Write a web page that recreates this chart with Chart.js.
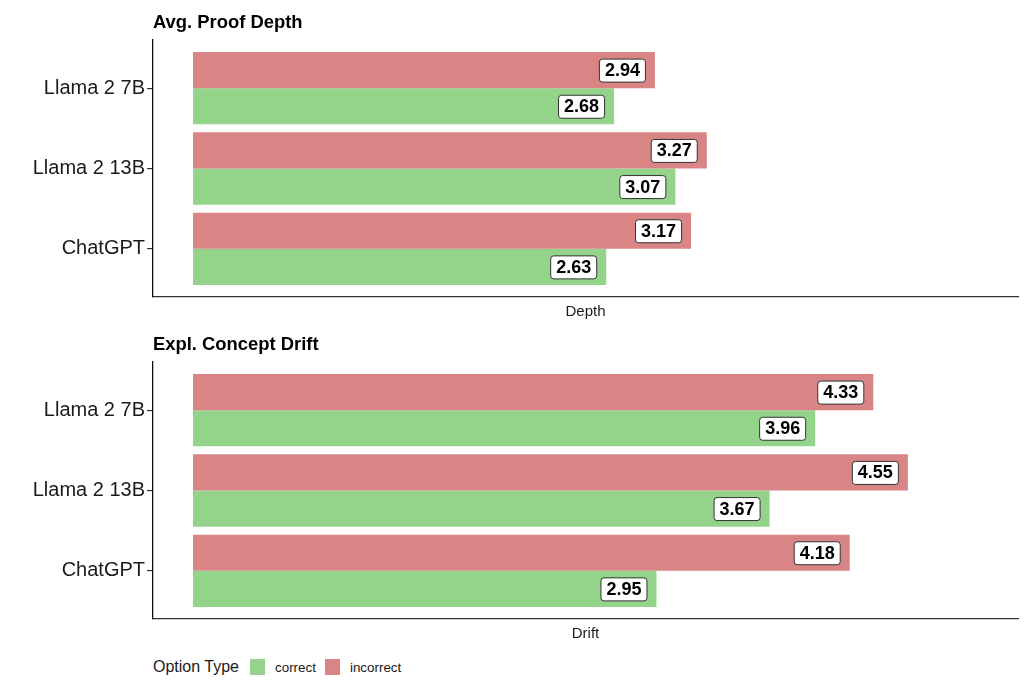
<!doctype html>
<html>
<head>
<meta charset="UTF-8">
<title>Proof depth and concept drift</title>
<script src="https://cdn.jsdelivr.net/npm/chart.js@4.4.1/dist/chart.umd.min.js"></script>
<style>
	body { margin: 0; background: #fff; font-family: "Liberation Sans", Arial, sans-serif; }
	#wrap { position: relative; width: 1033px; height: 691px; }
	.holder { position: absolute; left: 0; width: 1033px; height: 322px; }
	#legend { position: absolute; left: 153px; top: 658px; display: flex; align-items: center; color: #1a1a1a; }
	#legend .ttl { font-size: 16px; margin-right: 11px; }
	#legend .key { width: 15px; height: 16px; margin-right: 10px; }
	#legend .lab { font-size: 13.4px; margin-right: 9px; }
</style>
</head>
<body>
<div id="wrap">
	<div class="holder" style="top:0"><canvas id="depth"></canvas></div>
	<div class="holder" style="top:322px"><canvas id="drift"></canvas></div>
	<div id="legend"></div>
</div>
<script>
	const models = ['Llama 2 7B', 'Llama 2 13B', 'ChatGPT']
	const depthCorrect = [2.68, 3.07, 2.63]
	const depthIncorrect = [2.94, 3.27, 3.17]
	const driftCorrect = [3.96, 3.67, 2.95]
	const driftIncorrect = [4.33, 4.55, 4.18]

	const colors = { correct: '#93d38a', incorrect: '#d98585' }

	// white boxed value labels, right-aligned inside the bar end
	const valueLabels = {
		id: 'valueLabels',
		afterDatasetsDraw (chart) {
			const ctx = chart.ctx
			ctx.save()
			ctx.font = 'bold 18px "Liberation Sans", Arial, sans-serif'
			ctx.textAlign = 'center'
			ctx.textBaseline = 'middle'
			chart.data.datasets.forEach((ds, i) => {
				chart.getDatasetMeta(i).data.forEach((bar, j) => {
					const txt = ds.data[j].x.toFixed(2)
					const w = ctx.measureText(txt).width + 11
					const h = 23
					const right = bar.x - 10
					ctx.beginPath()
					ctx.roundRect(right - w + 0.5, bar.y - h / 2 + 0.5, w, h, 3)
					ctx.fillStyle = '#fff'
					ctx.fill()
					ctx.strokeStyle = '#333'
					ctx.lineWidth = 1
					ctx.stroke()
					ctx.fillStyle = '#000'
					ctx.fillText(txt, right - w / 2 + 0.5, bar.y + 1)
				})
			})
			ctx.restore()
		}
	}

	const panelTitle = {
		id: 'panelTitle',
		afterDraw (chart, args, opts) {
			const ctx = chart.ctx
			ctx.save()
			ctx.font = 'bold 18.4px "Liberation Sans", Arial, sans-serif'
			ctx.fillStyle = '#000'
			ctx.textAlign = 'left'
			ctx.textBaseline = 'middle'
			ctx.fillText(opts.text, chart.chartArea.left, 23)
			ctx.restore()
		}
	}

	function points (values) {
		return values.map((v, i) => ({ x: v, y: i + 1 }))
	}

	function makeChart (id, title, axisTitle, correct, incorrect) {
		return new Chart(document.getElementById(id), {
			type: 'bar',
			data: {
				datasets: [
					{ label: 'incorrect', data: points(incorrect), backgroundColor: colors.incorrect },
					{ label: 'correct', data: points(correct), backgroundColor: colors.correct }
				]
			},
			options: {
				indexAxis: 'y',
				animation: false,
				responsive: true,
				maintainAspectRatio: false,
				categoryPercentage: 0.9,
				barPercentage: 1.0,
				layout: { padding: { top: 40, right: 15, bottom: 1, left: 0 } },
				plugins: {
					legend: { display: false },
					tooltip: { enabled: false },
					panelTitle: { text: title }
				},
				scales: {
					x: {
						type: 'linear',
						min: -0.2546,
						max: 5.251,
						ticks: { display: false },
						grid: { display: false, drawTicks: false },
						border: { display: true, color: '#333', width: 1.3 },
						title: {
							display: true,
							text: axisTitle,
							color: '#1a1a1a',
							font: { size: 15, family: '"Liberation Sans", Arial, sans-serif' },
							padding: { top: 6, bottom: 0 }
						}
					},
					y: {
						type: 'linear',
						reverse: true,
						offset: false,
						min: 0.4,
						max: 3.6,
						afterBuildTicks (scale) {
							scale.ticks = models.map((m, i) => ({ value: i + 1 }))
						},
						afterFit (scale) { scale.width = 153 },
						ticks: {
							color: '#1a1a1a',
							padding: 2,
							font: { size: 20, family: '"Liberation Sans", Arial, sans-serif' },
							callback: (v) => models[v - 1]
						},
						grid: { offset: false, drawOnChartArea: false, drawTicks: true, tickLength: 6, color: '#333', lineWidth: 1.2 },
						border: { display: true, color: '#111', width: 1.3 }
					}
				}
			},
			plugins: [valueLabels, panelTitle]
		})
	}

	makeChart('depth', 'Avg. Proof Depth', 'Depth', depthCorrect, depthIncorrect)
	makeChart('drift', 'Expl. Concept Drift', 'Drift', driftCorrect, driftIncorrect)

	const legend = document.getElementById('legend')
	legend.innerHTML = '<span class="ttl">Option Type</span>' +
		['correct', 'incorrect'].map(k =>
			'<span class="key" style="background:' + colors[k] + '"></span><span class="lab">' + k + '</span>'
		).join('')
</script>
</body>
</html>
